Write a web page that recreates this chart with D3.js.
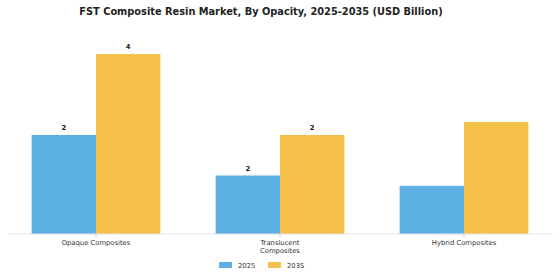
<!DOCTYPE html>
<html>
<head>
<meta charset="utf-8">
<script src="https://cdn.jsdelivr.net/npm/d3@7"></script>
<style>
  body { margin: 0; background: #fff; }
  svg text { font-family: "DejaVu Sans", sans-serif; }
</style>
</head>
<body>
<div id="chart"></div>
<script>
const categories = ["Opaque Composites", "Translucent Composites", "Hybrid Composites"];
const years = ["2025", "2035"];
const values2025 = [2.2, 1.3, 1.07];
const values2035 = [4.0, 2.2, 2.49];
const labels2025 = ["2", "2", ""];
const labels2035 = ["4", "2", ""];

const width = 560, height = 280;
const colors = ["#5DB0E3", "#F5C14A"];

const svg = d3.select("#chart")
  .append("svg")
  .attr("width", width)
  .attr("height", height);

svg.append("text")
  .attr("x", 261)
  .attr("y", 15)
  .attr("text-anchor", "middle")
  .attr("font-size", 9.8)
  .attr("font-weight", "bold")
  .attr("fill", "#222")
  .text("FST Composite Resin Market, By Opacity, 2025-2035 (USD Billion)");

const x = d3.scaleBand()
  .domain(categories)
  .range([4, 556])
  .paddingInner(0.3)
  .paddingOuter(0.15);

const xSub = d3.scaleBand()
  .domain(years)
  .range([0, x.bandwidth()]);

const y = d3.scaleLinear()
  .domain([0, 4.4])
  .range([234, 36]);

const rows = categories.map((c, i) => ({
  cat: c,
  vals: [
    { year: "2025", v: values2025[i], label: labels2025[i] },
    { year: "2035", v: values2035[i], label: labels2035[i] }
  ]
}));

const groups = svg.append("g")
  .selectAll("g")
  .data(rows)
  .join("g")
  .attr("transform", d => `translate(${x(d.cat)},0)`);

groups.selectAll("rect")
  .data(d => d.vals)
  .join("rect")
  .attr("x", d => xSub(d.year))
  .attr("y", d => y(d.v))
  .attr("width", xSub.bandwidth())
  .attr("height", d => y(0) - y(d.v))
  .attr("fill", (d, i) => colors[i]);

groups.selectAll("text.val")
  .data(d => d.vals)
  .join("text")
  .attr("class", "val")
  .attr("x", d => xSub(d.year) + xSub.bandwidth() / 2)
  .attr("y", d => y(d.v) - 5)
  .attr("text-anchor", "middle")
  .attr("font-size", 6.8)
  .attr("font-weight", "bold")
  .attr("fill", "#222")
  .text(d => d.label);

// x axis
const xAxis = svg.append("g")
  .attr("transform", `translate(0,${y(0)})`)
  .call(d3.axisBottom(x).tickSize(3).tickSizeOuter(0));
xAxis.select(".domain").remove();
xAxis.selectAll(".tick line").attr("stroke", "#bbb");
xAxis.append("line")
  .attr("x1", 8).attr("x2", 553)
  .attr("stroke", "#e2e2e2");
xAxis.selectAll(".tick text")
  .attr("font-size", 6.8)
  .attr("fill", "#333")
  .attr("font-family", "DejaVu Sans, sans-serif")
  .attr("dy", null)
  .attr("y", 11)
  .each(function (d) {
    const t = d3.select(this);
    if (d === "Translucent Composites") {
      t.text(null);
      t.append("tspan").attr("x", 0).text("Translucent");
      t.append("tspan").attr("x", 0).attr("dy", 8.3).text("Composites");
    }
  });

// legend
const legend = svg.append("g")
  .attr("transform", "translate(219,265)");
const lg = legend.selectAll("g")
  .data(years)
  .join("g")
  .attr("transform", (d, i) => `translate(${i * 49},0)`);
lg.append("rect")
  .attr("x", 0).attr("y", -3)
  .attr("width", 13).attr("height", 6)
  .attr("fill", (d, i) => colors[i]);
lg.append("text")
  .attr("x", 19).attr("y", 2.5)
  .attr("font-size", 6.8)
  .attr("fill", "#333")
  .text(d => d);
</script>
</body>
</html>
